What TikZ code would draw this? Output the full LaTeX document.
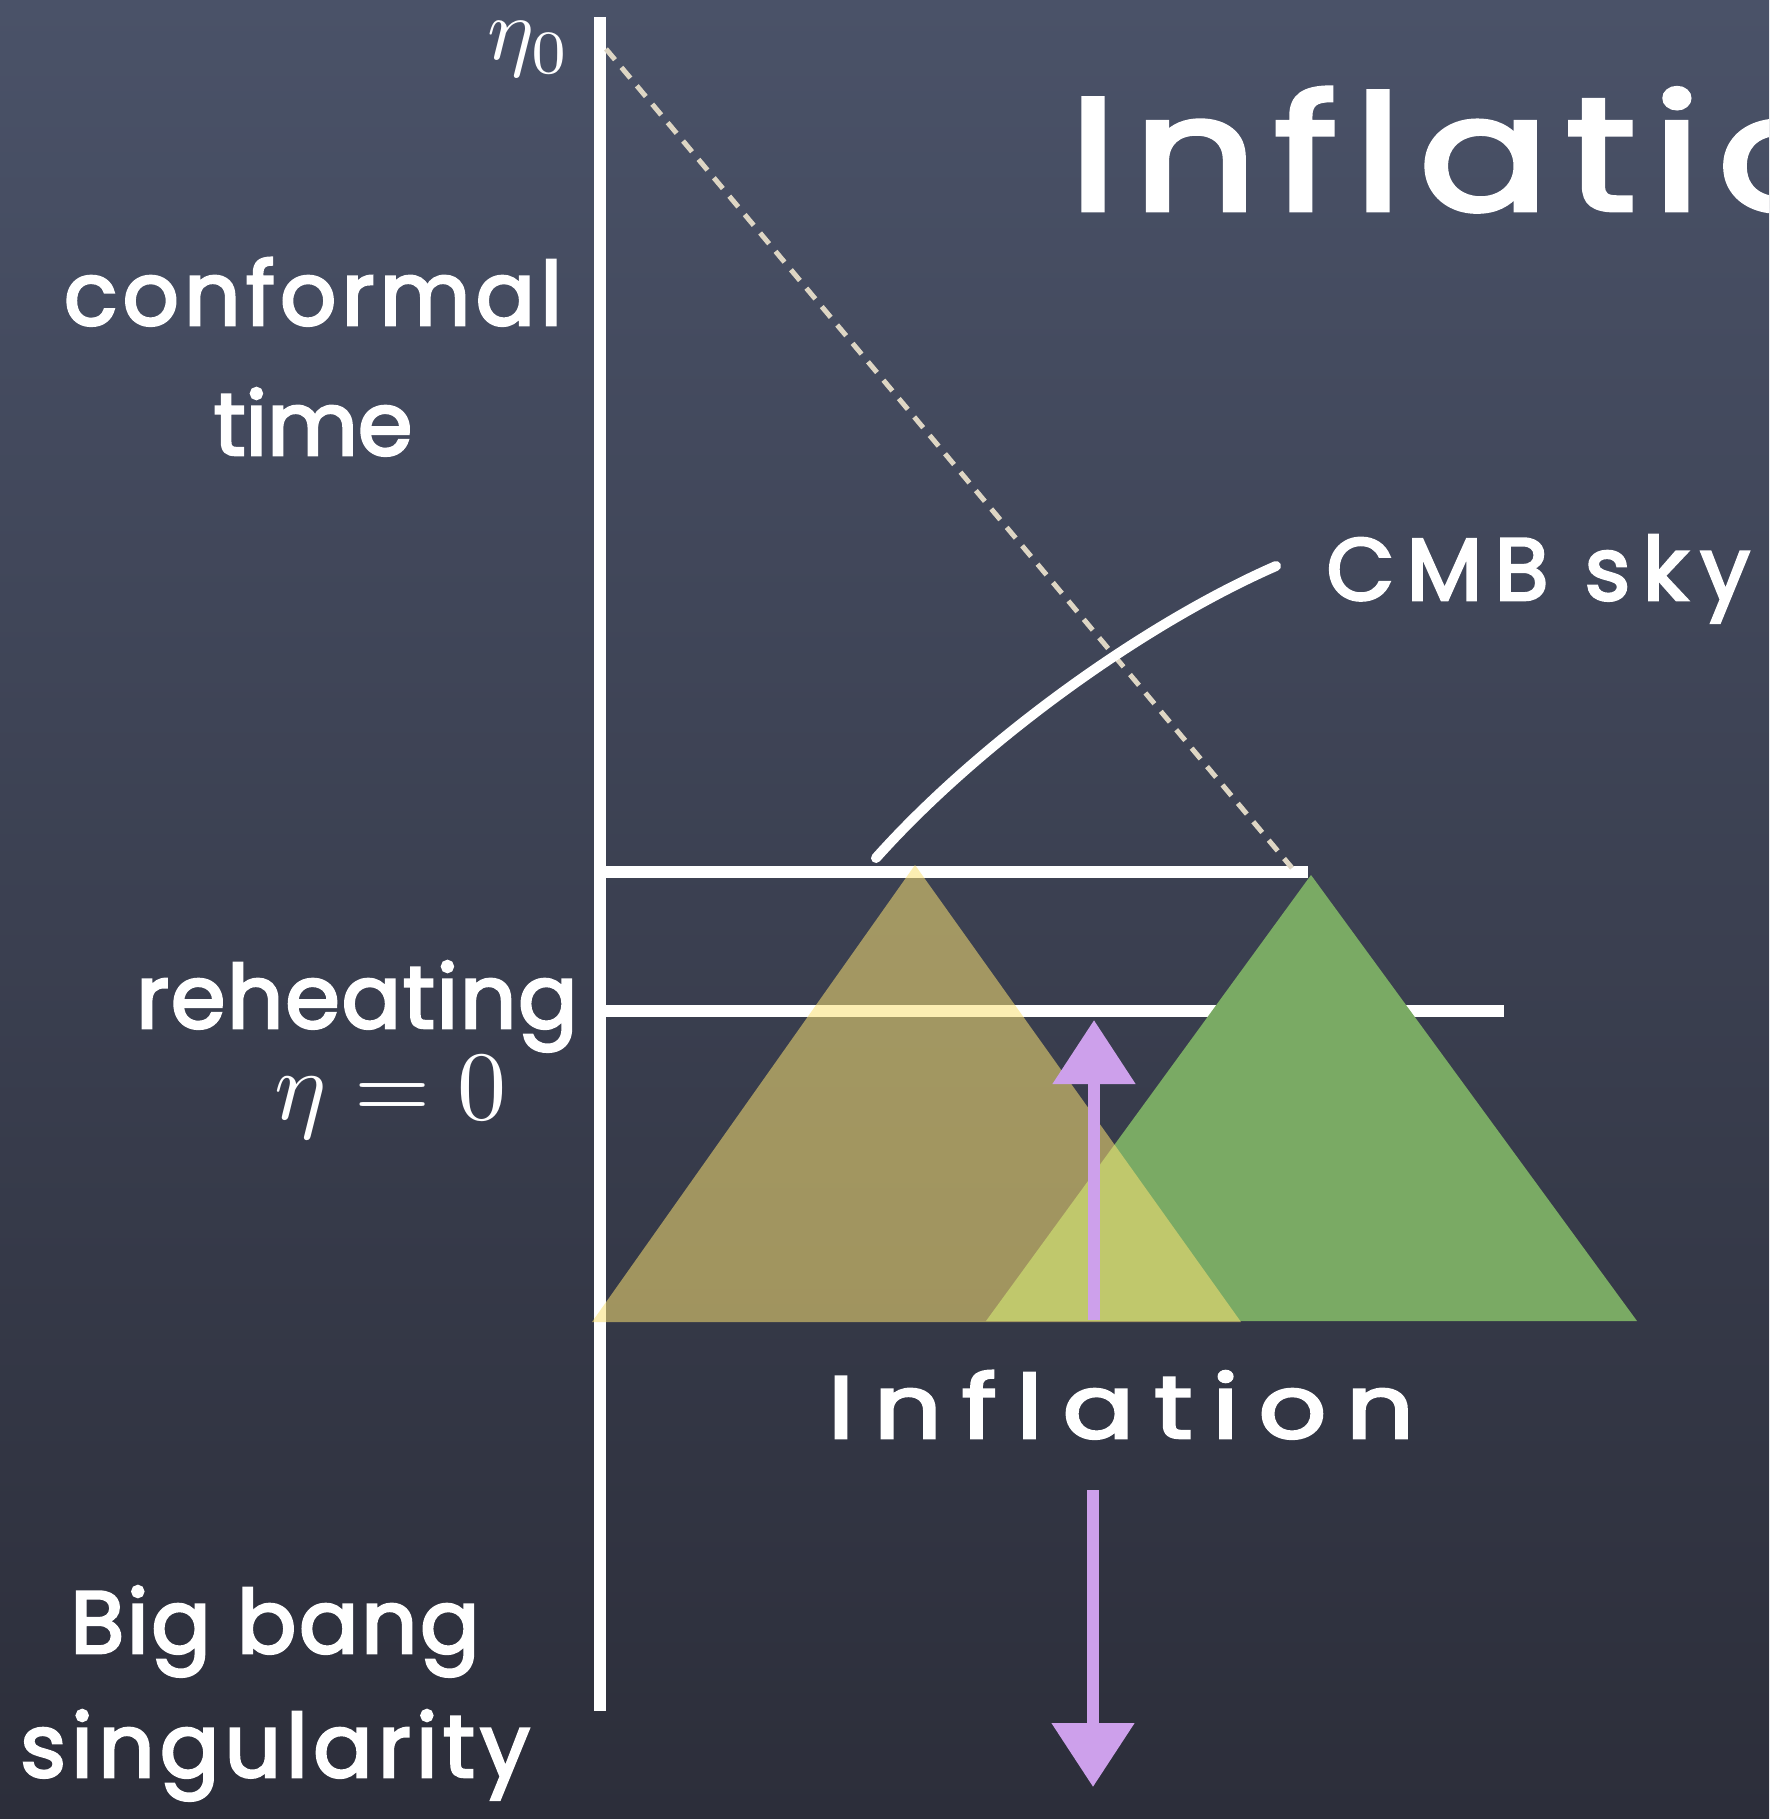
\documentclass[tikz,border=0pt]{standalone}
\usepackage{fontspec}
\setmainfont{Poppins}[FakeBold=3]
\usepackage{graphicx}
\usetikzlibrary{arrows.meta}
\definecolor{boardtop}{RGB}{74,82,104}
\definecolor{boardbot}{RGB}{44,46,58}
\definecolor{chalkdash}{RGB}{222,214,196}
\definecolor{horizonY}{RGB}{250,225,115}
\definecolor{horizonG}{RGB}{122,170,100}
\definecolor{lilac}{RGB}{205,160,235}
\newcommand{\spread}[1]{\addfontfeature{LetterSpace=#1}}
\newcommand{\bigmath}[2][4.9]{\scalebox{#1}{$#2$}}
\begin{document}
\begin{tikzpicture}[x=0.5pt, y=-0.5pt,
  chalk/.style={white, line width=6pt},
  hand/.style={white, inner sep=0pt, font=\fontsize{44pt}{50pt}\selectfont},
  big/.style={white, inner sep=0pt, font=\fontsize{80pt}{90pt}\selectfont},
  mth/.style={white, inner sep=0pt, font=\normalsize},
  lift/.style={lilac, line width=6pt, -{Triangle[length=32pt,width=40pt]}}]
  \useasboundingbox (0,0) rectangle (1769,1819);
  \clip (0,0) rectangle (1769,1819);
  % 黒板
  \shade[top color=boardtop, bottom color=boardbot] (0,0) rectangle (1769,1819);
  % 時間軸と水平線
  \coordinate (top) at (600,17);
  \coordinate (bottom) at (600,1711);
  \coordinate (cmbL) at (600,872);
  \coordinate (cmbR) at (1308,872);
  \coordinate (rehL) at (600,1011);
  \coordinate (rehR) at (1504,1011);
  \draw[chalk] (top) -- (bottom);
  \draw[chalk] (cmbL) -- (cmbR);
  \draw[chalk] (rehL) -- (rehR);
  % 過去光円錐 (破線)
  \coordinate (now) at (606,49);
  \coordinate (ls) at (1292,868);
  \draw[chalkdash, line width=2.5pt, dash pattern=on 7pt off 5pt] (now) -- (ls);
  % 因果的領域 (三角形)
  \fill[horizonG] (1311,875) -- (986,1321) -- (1637,1321) -- cycle;
  \fill[horizonY, opacity=0.55] (915,865) -- (592,1322) -- (1241,1322) -- cycle;
  % 矢印
  \coordinate (upA) at (1094,1320);
  \coordinate (upB) at (1094,1020);
  \coordinate (dnA) at (1093,1490);
  \coordinate (dnB) at (1093,1787);
  \draw[lift] (upA) -- (upB);
  \draw[lift] (dnA) -- (dnB);
  % CMB の曲線
  \coordinate (skyA) at (876,858);
  \coordinate (skyB) at (1276,566);
  \draw[white, line width=5pt, line cap=round] (skyA) .. controls (976,746) and (1139,626) .. (skyB);
  % ラベル
  \node[big, anchor=base west] (title) at (1069,210) {\spread{9}\scalebox{1.2}[1]{Inflation}};
  \node[hand, anchor=base west] (sky) at (1326,600) {\spread{14}CMB sky};
  \node[hand, anchor=base] (conf) at (313,325) {\spread{6}conformal};
  \node[hand, anchor=base] (time) at (313,455) {time};
  \node[hand, anchor=base east] (reh) at (578,1028) {\spread{2}reheating};
  \node[mth, anchor=base east] (eta) at (507,1119) {\bigmath{\eta=0}};
  \node[mth, anchor=base east] (eta0) at (571,60) {\bigmath[4.4]{\eta_0}};
  \node[hand, anchor=base] (infl) at (1121,1438) {\spread{19}\scalebox{1.2}[1]{Inflation}};
  \node[hand, anchor=base] (big) at (275,1653) {\spread{3}Big bang};
  \node[hand, anchor=base] (sing) at (275,1777) {\spread{6}singularity};
\end{tikzpicture}
\end{document}
